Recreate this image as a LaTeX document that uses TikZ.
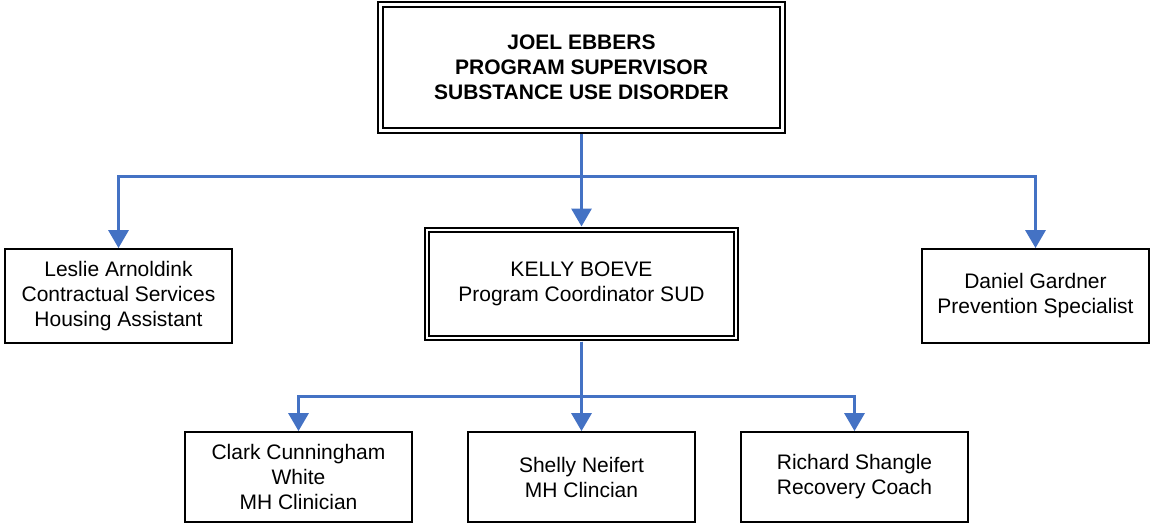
\documentclass[tikz,border=0pt]{standalone}
\usepackage{fontspec}
\setmainfont{Liberation Sans}
\usetikzlibrary{arrows.meta}

\definecolor{linkblue}{RGB}{68,114,196}

\tikzstyle{boss} = [draw, double, line width=1.6pt, double distance=3.4pt,
    outer sep=4pt, rectangle, align=center, inner sep=0pt,
    minimum width=402pt, minimum height=126pt,
    font=\bfseries\fontsize{21}{25}\selectfont]
\tikzstyle{lead} = [draw, double, line width=1.6pt, double distance=2.4pt,
    outer sep=3.5pt, rectangle, align=center, inner sep=0pt,
    minimum width=309pt, minimum height=108pt,
    font=\fontsize{21}{25}\selectfont]
\tikzstyle{staff} = [draw, line width=1.8pt, rectangle, align=center,
    inner sep=0pt, minimum width=227pt, minimum height=94pt,
    font=\fontsize{21}{25}\selectfont]
\tikzstyle{link} = [draw=linkblue, line width=3.2pt,
    -{Triangle[length=18pt,width=20pt]}]

\begin{document}
\begin{tikzpicture}[x=1pt, y=1pt]
    \useasboundingbox (0,0) rectangle (1151,-524);
    \node [boss] (sup) at (581.5,-67.5)
        {JOEL EBBERS\\PROGRAM SUPERVISOR\\SUBSTANCE USE DISORDER};
    \node [lead, below of=sup, node distance=216.5pt] (kelly)
        {KELLY BOEVE\\Program Coordinator SUD};
    \node [staff, left of=kelly, node distance=463pt, yshift=-12pt] (leslie)
        {Leslie Arnoldink\\Contractual Services\\Housing Assistant};
    \node [staff, right of=kelly, node distance=454pt, yshift=-12pt] (daniel)
        {Daniel Gardner\\Prevention Specialist};
    \node [staff, minimum height=90pt, below of=kelly, node distance=193pt] (shelly)
        {Shelly Neifert\\MH Clincian};
    \node [staff, minimum height=90pt, left of=shelly, node distance=283pt] (clark)
        {Clark Cunningham\\White\\MH Clinician};
    \node [staff, minimum height=90pt, right of=shelly, node distance=273pt] (richard)
        {Richard Shangle\\Recovery Coach};

    % top level
    \draw [link] (sup.south) -- (kelly.north);
    \draw [link] (sup.south) -- ++(0,-42) -| (leslie.north);
    \draw [link] (sup.south) -- ++(0,-42) -| (daniel.north);
    % coordinator's team
    \draw [link] (kelly.south) -- (shelly.north);
    \draw [link] (kelly.south) -- ++(0,-55) -| (clark.north);
    \draw [link] (kelly.south) -- ++(0,-55) -| (richard.north);
\end{tikzpicture}
\end{document}
